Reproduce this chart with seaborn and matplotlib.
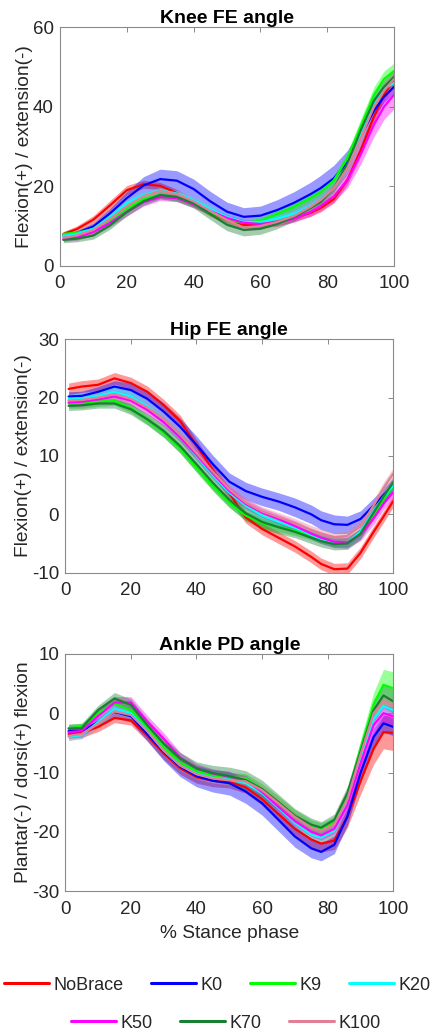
import numpy as np
import pandas as pd
import matplotlib
matplotlib.use("Agg")
import matplotlib.pyplot as plt
from matplotlib.lines import Line2D
import seaborn as sns

# ---------------- data ----------------
stance = [1, 5, 10, 15, 20, 25, 30, 35, 40, 45, 50, 55, 60, 65, 70, 75, 78, 82, 86, 90, 94, 97, 100]
series = ["NoBrace", "K0", "K9", "K20", "K50", "K70", "K100"]
colors = ["#ff0000", "#0000ff", "#00ff00", "#00ffff", "#ff00ff", "#197f33", "#e07f95"]

knee_nobrace = [8.0, 9.2, 11.6, 15.2, 19.0, 20.5, 20.1, 18.3, 15.8, 13.3, 11.5, 10.3, 10.3, 11.0, 12.0, 13.3, 14.5, 16.8, 21.5, 29.0, 37.5, 43.0, 47.0]
knee_k0 = [7.5, 8.2, 9.9, 13.2, 17.0, 20.2, 21.8, 21.4, 19.3, 16.2, 13.6, 12.3, 12.6, 14.0, 15.8, 18.0, 19.5, 22.0, 26.0, 32.5, 39.0, 42.5, 45.0]
knee_k9 = [8.0, 8.3, 9.2, 11.5, 14.4, 16.8, 17.8, 17.2, 15.7, 13.5, 11.5, 10.8, 11.3, 13.0, 14.8, 17.0, 18.5, 21.5, 27.0, 35.0, 43.0, 47.0, 49.0]
knee_k20 = [7.5, 8.0, 9.3, 12.3, 15.7, 17.8, 18.9, 18.2, 16.5, 14.3, 12.3, 11.0, 11.0, 11.8, 13.0, 15.0, 16.5, 19.5, 25.0, 33.0, 41.0, 44.5, 46.0]
knee_k50 = [6.8, 7.2, 8.5, 10.8, 13.5, 16.0, 17.3, 17.0, 15.5, 13.8, 12.0, 10.8, 10.5, 10.8, 11.8, 13.5, 15.0, 17.5, 21.5, 28.0, 35.5, 40.0, 43.0]
knee_k70 = [6.5, 6.8, 7.6, 10.2, 13.5, 16.2, 17.8, 17.3, 15.7, 13.0, 10.3, 9.0, 9.3, 10.5, 12.3, 14.5, 16.0, 19.5, 25.5, 34.0, 41.5, 45.0, 47.5]
knee_k100 = [7.0, 7.6, 9.0, 11.8, 15.0, 17.5, 18.8, 18.0, 16.2, 13.8, 11.5, 9.6, 10.0, 11.0, 12.5, 14.8, 16.5, 19.5, 24.5, 32.0, 40.0, 44.0, 47.0]

knee_sd_nobrace = [0.6, 0.8, 1.0, 1.2, 1.2, 1.0, 0.9, 0.9, 0.9, 0.9, 0.9, 0.9, 0.9, 0.9, 0.9, 0.9, 1.0, 1.0, 1.2, 1.5, 1.5, 1.5, 1.5]
knee_sd_k0 = [0.5, 0.6, 0.8, 1.2, 1.7, 2.2, 2.5, 2.5, 2.5, 2.5, 2.4, 2.3, 2.4, 2.6, 2.8, 3.0, 3.2, 3.3, 3.0, 2.0, 1.5, 1.5, 1.5]
knee_sd_k9 = [0.6, 0.6, 0.7, 0.8, 0.9, 0.9, 0.9, 0.9, 0.9, 0.9, 0.9, 0.9, 0.9, 1.0, 1.0, 1.0, 1.0, 1.2, 1.5, 1.8, 2.0, 2.0, 2.0]
knee_sd_k20 = [0.6, 0.6, 0.7, 0.8, 0.8, 0.8, 0.8, 0.8, 0.8, 0.8, 0.8, 0.8, 0.8, 0.8, 0.8, 0.8, 0.9, 0.9, 1.0, 1.1, 1.2, 1.2, 1.2]
knee_sd_k50 = [0.7, 0.8, 1.0, 1.0, 1.0, 1.0, 0.9, 0.9, 0.9, 0.9, 0.9, 0.9, 0.9, 0.9, 0.9, 1.0, 1.2, 1.5, 2.0, 2.5, 3.0, 3.2, 3.5]
knee_sd_k70 = [0.7, 0.8, 0.9, 1.0, 1.0, 1.0, 1.0, 1.1, 1.2, 1.4, 1.5, 1.5, 1.4, 1.2, 1.1, 1.0, 1.0, 1.0, 1.2, 1.5, 1.8, 1.8, 1.8]
knee_sd_k100 = [0.6, 0.7, 0.8, 0.9, 0.9, 0.9, 0.9, 0.9, 0.9, 0.9, 0.9, 0.9, 0.9, 0.9, 0.9, 1.0, 1.0, 1.2, 1.5, 1.8, 2.0, 2.0, 2.0]

hip_nobrace = [21.5, 21.9, 22.2, 23.3, 22.5, 21.0, 18.7, 16.0, 11.8, 7.6, 3.6, -0.5, -2.5, -4.0, -5.5, -7.3, -8.5, -9.4, -9.3, -6.6, -3.0, -0.4, 2.3]
hip_k0 = [20.2, 20.3, 21.0, 21.9, 21.3, 19.8, 17.6, 15.0, 11.9, 8.6, 5.6, 4.0, 3.0, 2.2, 1.2, 0.0, -1.0, -1.7, -1.8, -0.8, 1.5, 3.3, 5.0]
hip_k9 = [19.0, 19.0, 19.3, 19.5, 18.2, 16.2, 14.0, 11.3, 8.0, 4.8, 2.0, -0.2, -1.5, -2.2, -2.8, -3.6, -4.2, -4.8, -4.8, -3.3, 0.0, 2.5, 4.8]
hip_k20 = [19.8, 19.9, 20.3, 21.0, 20.2, 18.5, 16.2, 13.4, 10.0, 6.7, 3.7, 1.5, -0.2, -1.3, -2.3, -3.5, -4.2, -4.8, -4.8, -3.0, 0.5, 3.0, 5.0]
hip_k50 = [19.2, 19.3, 19.7, 20.2, 19.5, 17.9, 15.8, 13.2, 10.2, 7.0, 4.0, 1.8, 0.3, -0.8, -2.0, -3.3, -4.0, -4.7, -4.8, -3.5, -0.7, 1.8, 3.8]
hip_k70 = [18.6, 18.7, 19.0, 19.0, 18.0, 16.3, 14.3, 11.7, 8.6, 5.4, 2.5, 0.2, -1.3, -2.2, -3.0, -4.0, -4.6, -5.1, -5.0, -3.3, 0.3, 3.0, 5.5]
hip_k100 = [19.5, 19.6, 20.0, 20.6, 19.8, 18.3, 16.3, 13.7, 10.5, 7.3, 4.3, 2.0, 0.5, -0.5, -1.5, -2.7, -3.3, -3.9, -3.7, -2.0, 1.5, 4.5, 7.0]

hip_sd_nobrace = [1.0, 1.0, 1.0, 1.0, 1.0, 1.0, 1.0, 1.0, 1.0, 1.0, 1.0, 1.0, 1.0, 1.0, 1.0, 1.0, 1.0, 1.0, 1.0, 1.0, 1.0, 1.0, 1.0]
hip_sd_k0 = [0.8, 0.8, 0.9, 1.0, 1.2, 1.4, 1.5, 1.5, 1.5, 1.5, 1.5, 1.5, 1.5, 1.5, 1.6, 1.6, 1.6, 1.6, 1.5, 1.4, 1.3, 1.2, 1.2]
hip_sd_k9 = [0.8, 0.8, 0.8, 0.8, 0.8, 0.8, 0.8, 0.8, 0.8, 0.8, 0.8, 0.8, 0.8, 0.8, 0.8, 0.8, 0.8, 0.8, 0.8, 0.8, 0.9, 0.9, 0.9]
hip_sd_k20 = [0.8, 0.8, 0.8, 0.8, 0.8, 0.8, 0.8, 0.8, 0.8, 0.8, 0.8, 0.8, 0.8, 0.8, 0.8, 0.8, 0.8, 0.8, 0.8, 0.8, 0.9, 0.9, 0.9]
hip_sd_k50 = [0.8, 0.8, 0.8, 0.8, 0.8, 0.8, 0.8, 0.8, 0.8, 0.8, 0.8, 0.8, 0.8, 0.8, 0.9, 0.9, 1.0, 1.0, 1.0, 1.0, 1.0, 1.0, 1.0]
hip_sd_k70 = [0.8, 0.8, 0.8, 0.8, 0.9, 1.0, 1.1, 1.2, 1.3, 1.3, 1.3, 1.3, 1.2, 1.1, 1.0, 1.0, 1.0, 1.0, 1.0, 1.0, 1.0, 1.0, 1.0]
hip_sd_k100 = [0.8, 0.8, 0.8, 0.8, 0.8, 0.8, 0.8, 0.8, 0.8, 0.8, 0.8, 0.8, 0.8, 0.8, 0.8, 0.8, 0.8, 0.8, 0.9, 1.0, 1.0, 1.0, 1.0]

ankle_nobrace = [-3.5, -3.3, -2.3, -0.8, -1.2, -3.8, -6.8, -9.3, -10.8, -11.4, -11.6, -12.5, -14.5, -17.0, -19.5, -21.3, -22.0, -21.5, -17.5, -11.5, -6.0, -3.2, -3.3]
ankle_k0 = [-3.0, -3.0, -1.5, 0.2, -0.5, -3.5, -6.5, -9.0, -10.6, -11.4, -11.8, -13.2, -15.2, -18.0, -20.8, -22.8, -23.4, -22.2, -17.4, -10.1, -4.0, -1.7, -2.3]
ankle_k9 = [-2.5, -2.3, 0.0, 1.6, 0.5, -2.5, -5.8, -8.3, -9.8, -10.5, -10.8, -11.0, -12.8, -15.0, -17.3, -19.0, -19.5, -18.5, -14.0, -6.0, 1.5, 4.8, 4.2]
ankle_k20 = [-4.0, -3.7, -1.5, 0.8, 0.0, -3.0, -6.3, -8.8, -10.2, -10.9, -11.2, -11.8, -13.5, -16.0, -18.5, -20.5, -21.0, -19.8, -15.0, -7.5, -1.0, 1.2, 0.5]
ankle_k50 = [-3.2, -3.0, -0.5, 1.8, 1.8, -1.4, -4.3, -7.5, -9.3, -10.2, -10.7, -11.3, -13.3, -15.8, -18.2, -20.0, -20.6, -19.5, -15.5, -8.5, -2.0, 0.0, -0.5]
ankle_k70 = [-2.6, -2.5, 0.55, 2.5, 1.4, -2.0, -5.1, -7.6, -9.3, -10.1, -10.6, -11.3, -12.8, -15.0, -17.3, -18.8, -19.3, -18.0, -13.5, -6.5, 0.5, 3.0, 2.0]
ankle_k100 = [-3.8, -3.5, -1.8, 0.3, -0.3, -3.0, -6.3, -8.8, -10.3, -11.0, -11.3, -11.5, -13.0, -15.2, -17.5, -19.3, -19.8, -18.8, -14.5, -7.0, 0.0, 2.0, 1.3]

ankle_sd_nobrace = [0.8, 0.8, 0.8, 0.8, 0.8, 0.9, 1.0, 1.0, 1.0, 1.0, 1.0, 1.0, 1.0, 1.1, 1.2, 1.3, 1.4, 1.5, 1.8, 2.2, 2.6, 2.8, 3.0]
ankle_sd_k0 = [0.8, 0.8, 0.8, 0.9, 1.0, 1.2, 1.5, 1.7, 1.8, 1.9, 2.0, 2.0, 2.0, 1.9, 1.8, 1.6, 1.5, 1.5, 1.5, 1.5, 1.5, 1.5, 1.5]
ankle_sd_k9 = [0.6, 0.6, 0.7, 0.8, 0.8, 0.8, 0.8, 0.8, 0.8, 0.8, 0.8, 0.8, 0.9, 1.0, 1.0, 1.0, 1.0, 1.0, 1.2, 1.5, 2.0, 2.6, 2.8]
ankle_sd_k20 = [0.6, 0.6, 0.7, 0.8, 0.8, 0.8, 0.8, 0.8, 0.8, 0.8, 0.8, 0.8, 0.8, 0.8, 0.8, 0.8, 0.8, 0.8, 0.9, 1.0, 1.0, 1.0, 1.0]
ankle_sd_k50 = [1.0, 1.0, 1.0, 1.0, 1.0, 1.0, 1.0, 0.9, 0.8, 0.8, 0.8, 0.8, 0.8, 0.8, 0.8, 0.8, 0.8, 0.8, 1.0, 1.2, 1.5, 1.5, 1.5]
ankle_sd_k70 = [0.8, 0.8, 0.8, 1.0, 1.0, 1.0, 1.0, 1.0, 1.1, 1.3, 1.5, 1.6, 1.5, 1.3, 1.2, 1.1, 1.0, 1.0, 1.2, 1.5, 1.8, 2.0, 2.0]
ankle_sd_k100 = [0.8, 0.8, 0.8, 0.8, 0.8, 0.8, 0.8, 0.8, 0.8, 0.8, 0.8, 0.8, 0.8, 0.8, 0.8, 0.8, 0.8, 0.9, 1.0, 1.1, 1.2, 1.2, 1.2]

knee_means = [knee_nobrace, knee_k0, knee_k9, knee_k20, knee_k50, knee_k70, knee_k100]
knee_sds = [knee_sd_nobrace, knee_sd_k0, knee_sd_k9, knee_sd_k20, knee_sd_k50, knee_sd_k70, knee_sd_k100]
hip_means = [hip_nobrace, hip_k0, hip_k9, hip_k20, hip_k50, hip_k70, hip_k100]
hip_sds = [hip_sd_nobrace, hip_sd_k0, hip_sd_k9, hip_sd_k20, hip_sd_k50, hip_sd_k70, hip_sd_k100]
ankle_means = [ankle_nobrace, ankle_k0, ankle_k9, ankle_k20, ankle_k50, ankle_k70, ankle_k100]
ankle_sds = [ankle_sd_nobrace, ankle_sd_k0, ankle_sd_k9, ankle_sd_k20, ankle_sd_k50, ankle_sd_k70, ankle_sd_k100]

x_ticks = [0, 20, 40, 60, 80, 100]
knee_yticks = [0, 20, 40, 60]
hip_yticks = [-10, 0, 10, 20, 30]
ankle_yticks = [-30, -20, -10, 0, 10]

# ---------------- style ----------------
sns.set_style("white")
plt.rcParams['font.family'] = ['Liberation Sans', 'DejaVu Sans']
plt.rcParams['axes.unicode_minus'] = False

W, H = 435, 1034
fig = plt.figure(figsize=(W / 100, H / 100), dpi=100)


def frac_axes(left, top, right, bottom):
    return fig.add_axes([left / W, 1 - bottom / H, (right - left) / W, (bottom - top) / H])


ax1 = frac_axes(60, 27.3, 394, 265.7)
ax2 = frac_axes(65.3, 339.3, 393.3, 572.7)
ax3 = frac_axes(65.3, 654, 393.3, 891)

panels = [
    (ax1, knee_means, knee_sds, "Knee FE angle", "Flexion(+) / extension(-)", knee_yticks),
    (ax2, hip_means, hip_sds, "Hip FE angle", "Flexion(+) / extension(-)", hip_yticks),
    (ax3, ankle_means, ankle_sds, "Ankle PD angle", "Plantar(-) / dorsi(+) flexion", ankle_yticks),
]

for ax, means, sds, title, ylabel, yt in panels:
    for name, col, m, s in zip(series, colors, means, sds):
        m = np.asarray(m)
        s = np.asarray(s)
        ax.fill_between(stance, m - s, m + s, color=col, alpha=0.4, linewidth=0)
        sns.lineplot(x=stance, y=m, color=col, linewidth=1.6, ax=ax, legend=False)
    ax.set_xlim(0, 100)
    ax.set_ylim(yt[0], yt[-1])
    ax.set_xticks(x_ticks)
    ax.set_yticks(yt)
    ax.set_title(title, fontsize=14, fontweight="bold", pad=3, color="black")
    ax.set_ylabel(ylabel, fontsize=13.8, color="#262626", labelpad=0)
    ax.tick_params(direction="in", length=3.5, width=0.7, color="#8a8a8a",
                   labelcolor="#262626", labelsize=13.5, top=True, right=True)
    ax.tick_params(axis="x", pad=7)
    ax.tick_params(axis="y", pad=4.5)
    for sp in ax.spines.values():
        sp.set_color("#8a8a8a")
        sp.set_linewidth(0.8)

ax3.set_xlabel("% Stance phase", fontsize=13.8, color="#262626", labelpad=5)

handles = [Line2D([0], [0], color=c, lw=2.2) for c in colors]
fig.legend(handles[:4], series[:4], loc="center", bbox_to_anchor=(0.5, 1 - 985 / H),
           ncol=4, frameon=False, fontsize=13, handlelength=2.5, handletextpad=0.25,
           columnspacing=1.5, borderpad=0, borderaxespad=0)
fig.legend(handles[4:], series[4:], loc="center", bbox_to_anchor=(226 / W, 1 - 1023 / H),
           ncol=3, frameon=False, fontsize=13, handlelength=2.5, handletextpad=0.25,
           columnspacing=1.5, borderpad=0, borderaxespad=0)

fig.savefig("out.png", dpi=100)
